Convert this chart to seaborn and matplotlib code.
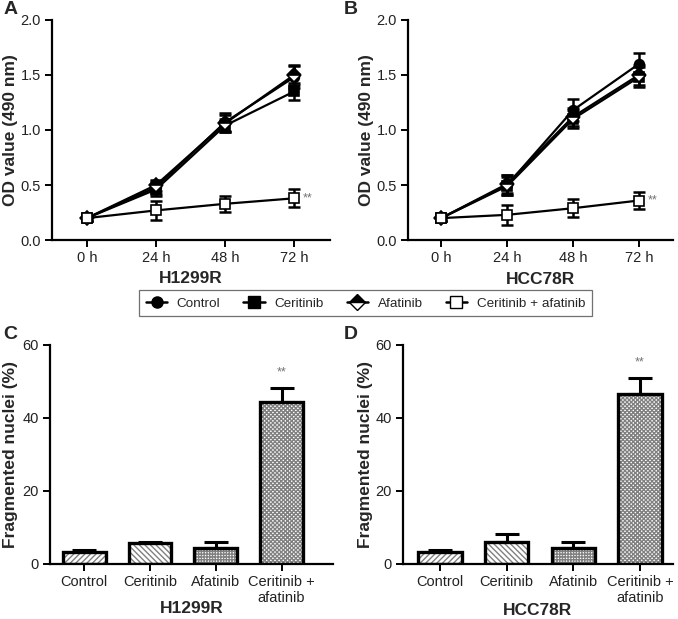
import numpy as np
import pandas as pd
import matplotlib
matplotlib.use("Agg")
import matplotlib.pyplot as plt
import seaborn as sns
from matplotlib.lines import Line2D

sns.set_theme(style="ticks")
plt.rcParams['font.family'] = ['Liberation Sans', 'DejaVu Sans']

# ---- data ----
times = ["0 h", "24 h", "48 h", "72 h"]
groups = ["Control", "Ceritinib", "Afatinib", "Ceritinib + afatinib"]

a_control = [0.20, 0.48, 1.07, 1.48]
a_ceritinib = [0.20, 0.46, 1.04, 1.35]
a_afatinib = [0.20, 0.50, 1.06, 1.50]
a_combo = [0.20, 0.27, 0.33, 0.38]
a_control_err = [0.03, 0.06, 0.08, 0.10]
a_ceritinib_err = [0.03, 0.06, 0.06, 0.08]
a_afatinib_err = [0.03, 0.05, 0.08, 0.09]
a_combo_err = [0.03, 0.09, 0.07, 0.08]

b_control = [0.20, 0.50, 1.18, 1.60]
b_ceritinib = [0.20, 0.49, 1.10, 1.48]
b_afatinib = [0.20, 0.51, 1.12, 1.50]
b_combo = [0.20, 0.23, 0.29, 0.36]
b_control_err = [0.03, 0.09, 0.10, 0.10]
b_ceritinib_err = [0.03, 0.08, 0.08, 0.09]
b_afatinib_err = [0.03, 0.08, 0.08, 0.09]
b_combo_err = [0.03, 0.09, 0.08, 0.08]

bar_labels = ["Control", "Ceritinib", "Afatinib", "Ceritinib +\nafatinib"]
c_values = [3.3, 5.6, 4.4, 44.3]
c_err = [0.6, 0.5, 1.6, 4.0]
d_values = [3.3, 6.0, 4.4, 46.6]
d_err = [0.6, 2.2, 1.6, 4.3]

# ---- styles ----
markers = {"Control": "o", "Ceritinib": "s", "Afatinib": "D", "Ceritinib + afatinib": "s"}
mfc = {"Control": "black", "Ceritinib": "black", "Afatinib": "black", "Ceritinib + afatinib": "white"}
fill = {"Control": "full", "Ceritinib": "full", "Afatinib": "top", "Ceritinib + afatinib": "full"}
msize = {"Control": 7, "Ceritinib": 7, "Afatinib": 7, "Ceritinib + afatinib": 7}
hatches = ["//////", "\\\\\\\\\\\\", "++++++", "xxxxxxxx"]

fig = plt.figure(figsize=(6.78, 6.19), dpi=100)
axA = fig.add_axes([0.077, 0.612, 0.410, 0.356])
axB = fig.add_axes([0.602, 0.612, 0.391, 0.356])
axC = fig.add_axes([0.074, 0.089, 0.417, 0.354])
axD = fig.add_axes([0.594, 0.089, 0.399, 0.354])


def line_panel(ax, series, errs, title):
    rows = []
    for g in groups:
        for i, t in enumerate(times):
            rows.append({"time": i, "group": g, "od": series[g][i], "err": errs[g][i]})
    df = pd.DataFrame(rows)
    for g in groups:
        sub = df[df.group == g]
        ax.errorbar(sub["time"], sub["od"], yerr=sub["err"], fmt="none",
                    ecolor="black", elinewidth=1.8, capsize=4.5, capthick=1.8, zorder=2)
        sns.lineplot(data=sub, x="time", y="od", ax=ax, color="black", linewidth=1.6,
                     marker=markers[g], markersize=msize[g], markerfacecolor=mfc[g],
                     markeredgecolor="black", markeredgewidth=1.2, fillstyle=fill[g],
                     markerfacecoloralt="white", zorder=3, legend=False)
    ax.set_xlim(-0.5, 3.52)
    ax.set_ylim(0, 2.0)
    ax.set_yticks([0, 0.5, 1.0, 1.5, 2.0])
    ax.set_yticklabels(["0.0", "0.5", "1.0", "1.5", "2.0"])
    ax.set_xticks(range(4))
    ax.set_xticklabels(times)
    ax.set_xlabel(title, fontsize=12.5, fontweight="bold")
    ax.set_ylabel("OD value (490 nm)", fontsize=12.5, fontweight="bold")
    c = series["Ceritinib + afatinib"][3]
    ax.text(3.13, c, "**", fontsize=9, color="0.45", va="center", ha="left")


def bar_panel(ax, values, errs, title):
    df = pd.DataFrame({"group": bar_labels, "value": values, "err": errs})
    sns.barplot(data=df, x="group", y="value", ax=ax, color="white", width=0.65,
                edgecolor="0.5", linewidth=0, errorbar=None, zorder=2)
    for p, h in zip(ax.patches, hatches):
        p.set_hatch(h)
    ax.errorbar(range(4), values, yerr=[np.zeros(4), errs], fmt="none", ecolor="black",
                elinewidth=2.2, capsize=8.5, capthick=2.2, zorder=1)
    sns.barplot(data=df, x="group", y="value", ax=ax, fill=False, width=0.65,
                edgecolor="black", linewidth=2.4, errorbar=None, zorder=3)
    ax.set_xlim(-0.52, 3.78)
    ax.set_ylim(0, 60)
    ax.set_yticks([0, 20, 40, 60])
    ax.set_xlabel(title, fontsize=12.5, fontweight="bold")
    ax.set_ylabel("Fragmented nuclei (%)", fontsize=12.5, fontweight="bold")
    ax.text(3, values[3] + errs[3] + 2.5, "**", fontsize=9, color="0.45", ha="center", va="bottom")


line_panel(axA,
           {"Control": a_control, "Ceritinib": a_ceritinib, "Afatinib": a_afatinib, "Ceritinib + afatinib": a_combo},
           {"Control": a_control_err, "Ceritinib": a_ceritinib_err, "Afatinib": a_afatinib_err, "Ceritinib + afatinib": a_combo_err},
           "H1299R")
line_panel(axB,
           {"Control": b_control, "Ceritinib": b_ceritinib, "Afatinib": b_afatinib, "Ceritinib + afatinib": b_combo},
           {"Control": b_control_err, "Ceritinib": b_ceritinib_err, "Afatinib": b_afatinib_err, "Ceritinib + afatinib": b_combo_err},
           "HCC78R")
bar_panel(axC, c_values, c_err, "H1299R")
bar_panel(axD, d_values, d_err, "HCC78R")
axD.set_xlim(-0.56, 3.5)

for ax in [axA, axB, axC, axD]:
    sns.despine(ax=ax)
    for s in ["left", "bottom"]:
        ax.spines[s].set_linewidth(1.6)
        ax.spines[s].set_color("black")
    ax.tick_params(axis="both", labelsize=10.5, width=1.4, length=5, color="black",
                   labelcolor="#222222", pad=3)
    ax.set_facecolor("white")

# label positions (axes coords)
axA.yaxis.set_label_coords(-0.151, 0.5)
axB.yaxis.set_label_coords(-0.158, 0.5)
axC.yaxis.set_label_coords(-0.141, 0.5)
axD.yaxis.set_label_coords(-0.137, 0.5)
for ax, yy in [(axA, -0.175), (axB, -0.177), (axC, -0.203), (axD, -0.213)]:
    ax.xaxis.set_label_coords(0.5, yy)
    ax.xaxis.label.set_va("center")
for ax in [axA, axB, axC, axD]:
    ax.yaxis.label.set_va("center")

# legend
handles = [Line2D([0], [0], color="black", lw=1.8, marker=markers[g], markersize=8,
                  markerfacecolor=mfc[g], markeredgecolor="black", fillstyle=fill[g],
                  markerfacecoloralt="white")
           for g in groups]
leg = fig.legend(handles, groups, loc="center", bbox_to_anchor=(0.539, 0.510), ncol=4,
                 fontsize=9.7, frameon=True, fancybox=False, edgecolor="0.3",
                 handlelength=1.6, handletextpad=0.7, columnspacing=1.7, borderpad=0.5)
leg.get_frame().set_linewidth(0.9)

for lab, x, y in [("A", 0.005, 0.998), ("B", 0.507, 0.998), ("C", 0.005, 0.473), ("D", 0.507, 0.473)]:
    fig.text(x, y, lab, fontsize=14, fontweight="bold", va="top", ha="left")

fig.savefig("out.png", dpi=100, facecolor="white")
